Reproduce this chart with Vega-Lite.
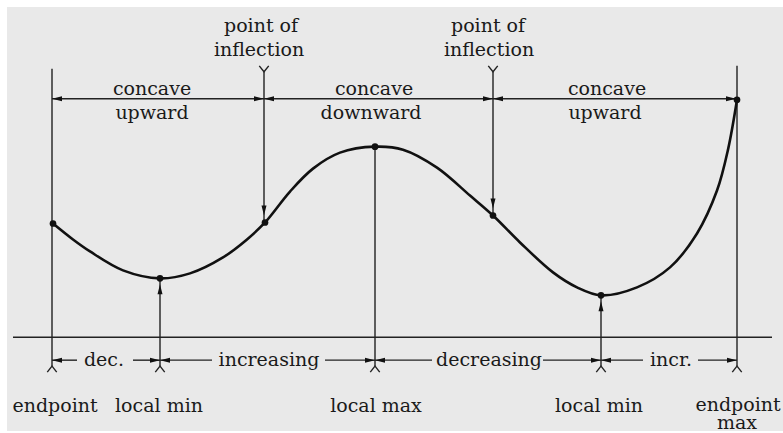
{
  "$schema": "https://vega.github.io/schema/vega-lite/v6.json",
  "width": 783,
  "height": 433,
  "autosize": {"type": "fit", "contains": "padding"},
  "padding": 0,
  "background": "#ffffff",
  "config": {"view": {"stroke": null}},
  "resolve": {"scale": {"shape": "independent"}},
  "datasets": {
    "bg": [{"x": 7, "x2": 783, "y": 7, "y2": 432}],
    "curve": [
      {"x": 53, "y": 224}, {"x": 73, "y": 240}, {"x": 90, "y": 252}, {"x": 123, "y": 271},
      {"x": 160, "y": 279}, {"x": 190, "y": 274}, {"x": 223, "y": 258}, {"x": 247, "y": 240},
      {"x": 265, "y": 223}, {"x": 290, "y": 192}, {"x": 313, "y": 169}, {"x": 340, "y": 153},
      {"x": 375, "y": 147}, {"x": 403, "y": 150}, {"x": 437, "y": 168}, {"x": 470, "y": 196},
      {"x": 493, "y": 216}, {"x": 520, "y": 243}, {"x": 553, "y": 273}, {"x": 577, "y": 288},
      {"x": 601, "y": 296}, {"x": 637, "y": 288}, {"x": 670, "y": 268}, {"x": 697, "y": 234},
      {"x": 717, "y": 191}, {"x": 728, "y": 150}, {"x": 737, "y": 100}
    ],
    "rules": [
      {"x": 13, "y": 338, "x2": 772, "y2": 338},
      {"x": 52, "y": 69, "x2": 52, "y2": 367},
      {"x": 160, "y": 279, "x2": 160, "y2": 367},
      {"x": 264, "y": 72, "x2": 264, "y2": 223},
      {"x": 375, "y": 147, "x2": 375, "y2": 367},
      {"x": 493, "y": 72, "x2": 493, "y2": 216},
      {"x": 601, "y": 296, "x2": 601, "y2": 367},
      {"x": 737, "y": 66, "x2": 737, "y2": 367},
      {"x": 52, "y": 99, "x2": 264, "y2": 99},
      {"x": 264, "y": 99, "x2": 493, "y2": 99},
      {"x": 493, "y": 99, "x2": 737, "y2": 99},
      {"x": 52, "y": 361, "x2": 77, "y2": 361},
      {"x": 133, "y": 361, "x2": 160, "y2": 361},
      {"x": 160, "y": 361, "x2": 212, "y2": 361},
      {"x": 325, "y": 361, "x2": 375, "y2": 361},
      {"x": 375, "y": 361, "x2": 432, "y2": 361},
      {"x": 543, "y": 361, "x2": 601, "y2": 361},
      {"x": 601, "y": 361, "x2": 643, "y2": 361},
      {"x": 698, "y": 361, "x2": 737, "y2": 361}
    ],
    "dots": [
      {"x": 53, "y": 224}, {"x": 160, "y": 279}, {"x": 265, "y": 223}, {"x": 375, "y": 147},
      {"x": 493, "y": 216}, {"x": 601, "y": 296}, {"x": 737, "y": 100}
    ],
    "arrows": [
      {"x": 57, "y": 99, "dir": "left"}, {"x": 259, "y": 99, "dir": "right"},
      {"x": 269, "y": 99, "dir": "left"}, {"x": 488, "y": 99, "dir": "right"},
      {"x": 498, "y": 99, "dir": "left"}, {"x": 731, "y": 99, "dir": "right"},
      {"x": 264, "y": 211, "dir": "down"}, {"x": 493, "y": 204, "dir": "down"},
      {"x": 160, "y": 290, "dir": "up"}, {"x": 601, "y": 307, "dir": "up"},
      {"x": 57, "y": 361, "dir": "left"}, {"x": 155, "y": 361, "dir": "right"},
      {"x": 165, "y": 361, "dir": "left"}, {"x": 370, "y": 361, "dir": "right"},
      {"x": 380, "y": 361, "dir": "left"}, {"x": 596, "y": 361, "dir": "right"},
      {"x": 606, "y": 361, "dir": "left"}, {"x": 732, "y": 361, "dir": "right"}
    ],
    "forks": [
      {"x": 264, "y": 69, "kind": "top"}, {"x": 493, "y": 69, "kind": "top"},
      {"x": 52, "y": 370, "kind": "bottom"}, {"x": 160, "y": 370, "kind": "bottom"},
      {"x": 375, "y": 370, "kind": "bottom"}, {"x": 601, "y": 370, "kind": "bottom"},
      {"x": 737, "y": 370, "kind": "bottom"}
    ],
    "labels": [
      {"x": 261, "y": 32, "text": "point of"}, {"x": 259, "y": 56, "text": "inflection"},
      {"x": 488, "y": 32, "text": "point of"}, {"x": 489, "y": 56, "text": "inflection"},
      {"x": 152, "y": 95, "text": "concave"}, {"x": 152, "y": 119, "text": "upward"},
      {"x": 374, "y": 95, "text": "concave"}, {"x": 371, "y": 119, "text": "downward"},
      {"x": 607, "y": 95, "text": "concave"}, {"x": 605, "y": 119, "text": "upward"},
      {"x": 104, "y": 367, "text": "dec."}, {"x": 269, "y": 367, "text": "increasing"},
      {"x": 489, "y": 367, "text": "decreasing"}, {"x": 671, "y": 367, "text": "incr."},
      {"x": 55, "y": 413, "text": "endpoint"}, {"x": 159, "y": 413, "text": "local min"},
      {"x": 376, "y": 413, "text": "local max"}, {"x": 599, "y": 413, "text": "local min"},
      {"x": 738, "y": 412, "text": "endpoint"}, {"x": 737, "y": 430, "text": "max"}
    ]
  },
  "layer": [
    {
      "data": {"name": "bg"},
      "mark": {"type": "rect", "fill": "#e9e9e9"},
      "encoding": {
        "x": {"field": "x", "type": "quantitative", "scale": {"domain": [0, 783]}, "axis": null},
        "x2": {"field": "x2"},
        "y": {"field": "y", "type": "quantitative", "scale": {"domain": [0, 433], "reverse": true}, "axis": null},
        "y2": {"field": "y2"}
      }
    },
    {
      "data": {"name": "rules"},
      "mark": {"type": "rule", "stroke": "#222222", "strokeWidth": 1.4},
      "encoding": {
        "x": {"field": "x", "type": "quantitative", "scale": {"domain": [0, 783]}, "axis": null},
        "x2": {"field": "x2"},
        "y": {"field": "y", "type": "quantitative", "scale": {"domain": [0, 433], "reverse": true}, "axis": null},
        "y2": {"field": "y2"}
      }
    },
    {
      "data": {"name": "curve"},
      "mark": {"type": "line", "interpolate": "catmull-rom", "stroke": "#111111", "strokeWidth": 2.6},
      "encoding": {
        "x": {"field": "x", "type": "quantitative", "scale": {"domain": [0, 783]}, "axis": null},
        "y": {"field": "y", "type": "quantitative", "scale": {"domain": [0, 433], "reverse": true}, "axis": null}
      }
    },
    {
      "data": {"name": "dots"},
      "mark": {"type": "circle", "fill": "#111111", "opacity": 1, "size": 45},
      "encoding": {
        "x": {"field": "x", "type": "quantitative", "scale": {"domain": [0, 783]}, "axis": null},
        "y": {"field": "y", "type": "quantitative", "scale": {"domain": [0, 433], "reverse": true}, "axis": null}
      }
    },
    {
      "data": {"name": "arrows"},
      "mark": {"type": "point", "filled": true, "fill": "#111111", "opacity": 1, "size": 100, "strokeWidth": 0},
      "encoding": {
        "x": {"field": "x", "type": "quantitative", "scale": {"domain": [0, 783]}, "axis": null},
        "y": {"field": "y", "type": "quantitative", "scale": {"domain": [0, 433], "reverse": true}, "axis": null},
        "shape": {
          "field": "dir", "type": "nominal", "legend": null,
          "scale": {
            "domain": ["left", "right", "up", "down"],
            "range": ["M-1,0L1,-0.5L1,0.5Z", "M1,0L-1,-0.5L-1,0.5Z", "M0,-1L-0.5,1L0.5,1Z", "M0,1L-0.5,-1L0.5,-1Z"]
          }
        }
      }
    },
    {
      "data": {"name": "forks"},
      "mark": {"type": "point", "filled": false, "fill": null, "stroke": "#222222", "strokeWidth": 1.4, "opacity": 1, "size": 140},
      "encoding": {
        "x": {"field": "x", "type": "quantitative", "scale": {"domain": [0, 783]}, "axis": null},
        "y": {"field": "y", "type": "quantitative", "scale": {"domain": [0, 433], "reverse": true}, "axis": null},
        "shape": {
          "field": "kind", "type": "nominal", "legend": null,
          "scale": {
            "domain": ["top", "bottom"],
            "range": ["M-0.8,-0.5L0,0.5L0.8,-0.5", "M-0.8,0.5L0,-0.5L0.8,0.5"]
          }
        }
      }
    },
    {
      "data": {"name": "labels"},
      "mark": {"type": "text", "font": "DejaVu Serif", "fontSize": 19, "align": "center", "baseline": "alphabetic", "fill": "#1a1a1a"},
      "encoding": {
        "x": {"field": "x", "type": "quantitative", "scale": {"domain": [0, 783]}, "axis": null},
        "y": {"field": "y", "type": "quantitative", "scale": {"domain": [0, 433], "reverse": true}, "axis": null},
        "text": {"field": "text"}
      }
    }
  ]
}
